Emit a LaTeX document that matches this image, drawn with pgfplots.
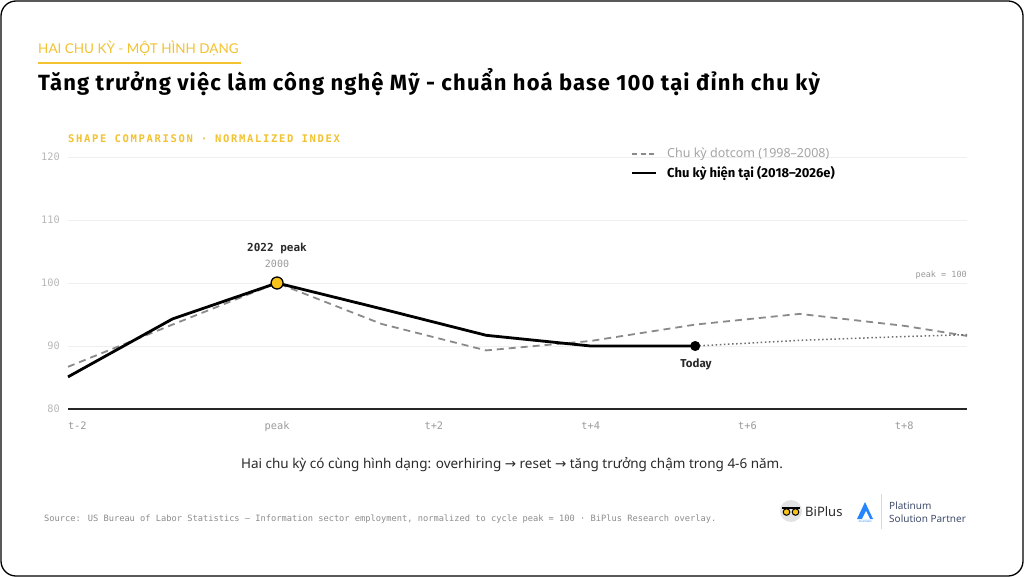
\documentclass[border=0pt]{standalone}
\usepackage{fontspec}
\usepackage{pgfplots}
\pgfplotsset{compat=1.18}
\setmainfont{Noto Sans}
\newfontfamily\titlefont{Lato}
\newfontfamily\boldsans{Fira Sans}
\newfontfamily\boldtitle{Fira Sans}[LetterSpace=5.2]
\newfontfamily\mono{DejaVu Sans Mono}
\newfontfamily\monotrack{DejaVu Sans Mono}[LetterSpace=16]
\newfontfamily\djv{DejaVu Sans}
\definecolor{gold}{HTML}{F2C230}
\definecolor{markgold}{HTML}{F7C31A}
\definecolor{gridlight}{HTML}{EFEFEF}
\definecolor{gridmid}{HTML}{D2D2D2}
\definecolor{ticky}{HTML}{B8B8B8}
\definecolor{tickx}{HTML}{9A9A9A}
\definecolor{dashgray}{HTML}{8A8A8A}
\definecolor{darktxt}{HTML}{2A2A2A}
\definecolor{srcgray}{HTML}{8C8C8C}
\definecolor{slate}{HTML}{3F4D6B}
\definecolor{atl}{HTML}{2684FF}

\pgfplotstableread{
x y
0 86.7
1 93.4
2 100
3 93.5
4 89.3
5 90.8
6 93.4
7 95.1
8 93.2
8.6 91.6
}\dotcom
\pgfplotstableread{
x y
0 85.1
1 94.3
2 100
3 95.9
4 91.7
5 90.0
6 90.0
}\current
\pgfplotstableread{
x y
6 90.0
7 90.9
8 91.5
8.6 91.8
}\proj

\begin{document}
\begin{tikzpicture}[x=1pt,y=-1pt]
\useasboundingbox (0,0) rectangle (1024,577);
\fill[white] (0,0) rectangle (1024,577);
\draw[line width=1.3pt, rounded corners=15pt] (1,1) rectangle (1023,576);

% header
\node[anchor=base west, inner sep=0, text=gold, font=\titlefont\fontsize{13.5}{15}\selectfont] at (38,54) {HAI CHU KỲ - MỘT HÌNH DẠNG};
\draw[gold, line width=1.2pt] (38,63) -- (241,63);
\node[anchor=base west, inner sep=0, font=\boldtitle\bfseries\fontsize{22}{25}\selectfont] at (38,90.5) {Tăng trưởng việc làm công nghệ Mỹ - chuẩn hoá base 100 tại đỉnh chu kỳ};
\node[anchor=base west, inner sep=0, text=gold, font=\monotrack\bfseries\fontsize{10.5}{12}\selectfont] at (68,143) {SHAPE COMPARISON · NORMALIZED INDEX};

\begin{axis}[
  at={(68pt,-409pt)}, anchor=south west,
  scale only axis, width=899pt, height=252pt,
  xmin=0, xmax=8.6, ymin=80, ymax=120,
  axis line style={draw=none},
  major tick length=0pt,
  ytick={80,90,100,110,120},
  yticklabels={80,90,100,110,120},
  xtick={0,2,3.5,5,6.5,8},
  xticklabels={\makebox[0pt][l]{t-2},peak,t+2,t+4,t+6,t+8},
  yticklabel style={font=\mono\fontsize{10.3}{12}\selectfont, text=ticky, anchor=east, inner sep=0pt, xshift=-8pt},
  xticklabel style={font=\mono\fontsize{10.3}{12}\selectfont, text=tickx, anchor=north, inner sep=0pt, text height=8pt, text depth=2pt, yshift=-12pt},
  ymajorgrids,
  major grid style={gridlight, line width=0.9pt},
  extra y ticks={100},
  extra y tick labels={},
  extra y tick style={grid style={gridmid, line width=1.5pt}},
  clip=false,
]
\addplot[dashgray, line width=1.8pt, dash pattern=on 7pt off 5pt] table[x=x,y=y]{\dotcom};
\addplot[dashgray!80!black, line width=1.5pt, dash pattern=on 1.5pt off 2.6pt] table[x=x,y=y]{\proj};
\addplot[black, line width=2.8pt, line join=round] table[x=x,y=y]{\current};
\draw[black!85, line width=1.8pt] (axis cs:0,80) -- (axis cs:8.6,80);
\addplot[only marks, mark=*, mark size=6pt, mark options={fill=markgold, draw=black, line width=1.3pt}] coordinates {(2,100)};
\addplot[only marks, mark=*, mark size=4.8pt, mark options={fill=black, draw=black}] coordinates {(6,90)};
\end{axis}

% legend
\draw[dashgray, line width=1.8pt, dash pattern=on 5pt off 3.5pt] (632,154) -- (656,154);
\node[anchor=west, inner sep=0, text=ticky!90!black, font=\fontsize{12.5}{14}\selectfont] at (667,154) {Chu kỳ dotcom (1998–2008)};
\draw[black, line width=2.8pt] (632,173) -- (656,173);
\node[anchor=west, inner sep=0, font=\boldsans\bfseries\fontsize{13}{15}\selectfont] at (667,173) {Chu kỳ hiện tại (2018–2026e)};

% annotations
\node[inner sep=0, text=darktxt, font=\mono\bfseries\fontsize{11}{13}\selectfont] at (277,248) {2022 peak};
\node[inner sep=0, text=tickx, font=\mono\fontsize{10}{12}\selectfont] at (277,264) {2000};
\node[anchor=east, inner sep=0, text=tickx, font=\mono\fontsize{8.5}{10}\selectfont] at (967,275) {peak = 100};
\node[inner sep=0, text=darktxt, font=\boldsans\bfseries\fontsize{11.5}{13}\selectfont] at (696,364) {Today};

% caption
\node[inner sep=0, text=darktxt, font=\fontsize{13.5}{15}\selectfont] at (512,465) {Hai chu kỳ có cùng hình dạng: overhiring {\djv→} reset {\djv→} tăng trưởng chậm trong 4-6 năm.};

% source
\node[anchor=west, inner sep=0, text=srcgray, font=\mono\fontsize{8.7}{10}\selectfont] at (44,519) {Source: US Bureau of Labor Statistics — Information sector employment, normalized to cycle peak = 100 · BiPlus Research overlay.};

% logos
\fill[gray!22] (791,511) circle (11);
\fill[black] (782,506.5) rectangle (800,508.5);
\draw[black, fill=markgold, line width=1pt] (786.5,512) circle (3.3);
\draw[black, fill=markgold, line width=1pt] (795.5,512) circle (3.3);
\node[anchor=west, inner sep=0, text=darktxt, font=\fontsize{13}{15}\selectfont] at (805,512) {BiPlus};
\fill[atl] (857,519) -- (865,502) -- (873,519) -- cycle;
\fill[white] (862,519) -- (866,511) -- (870,519) -- cycle;
\node[inner sep=0, text=atl, font=\fontsize{2.5}{3}\selectfont] at (865,522) {ATLASSIAN};
\draw[gray!30, line width=0.8pt] (881,494) -- (881,529);
\node[anchor=west, inner sep=0, text=slate, font=\fontsize{10}{12}\selectfont] at (889,506) {Platinum};
\node[anchor=west, inner sep=0, text=slate, font=\fontsize{10}{12}\selectfont] at (889,519) {Solution Partner};
\end{tikzpicture}
\end{document}
